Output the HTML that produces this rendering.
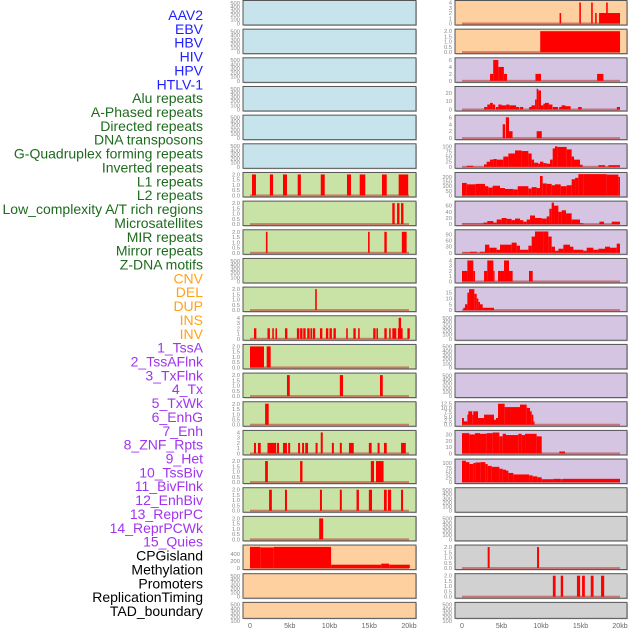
<!DOCTYPE html>
<html><head><meta charset="utf-8">
<style>
html,body{margin:0;padding:0;background:#fff;}
svg{display:block;font-family:"Liberation Sans",sans-serif;}
</style></head>
<body>
<svg id="chart" width="630" height="630" viewBox="0 0 630 630">
<g id="labels"></g>
<g id="panels"></g>
<g id="xaxes"></g>
</svg>
<script>
// ---------- label data ----------
const labelNames = ["AAV2","EBV","HBV","HIV","HPV","HTLV-1","Alu repeats","A-Phased repeats","Directed repeats","DNA transposons","G-Quadruplex forming repeats","Inverted repeats","L1 repeats","L2 repeats","Low_complexity A/T rich regions","Microsatellites","MIR repeats","Mirror repeats","Z-DNA motifs","CNV","DEL","DUP","INS","INV","1_TssA","2_TssAFlnk","3_TxFlnk","4_Tx","5_TxWk","6_EnhG","7_Enh","8_ZNF_Rpts","9_Het","10_TssBiv","11_BivFlnk","12_EnhBiv","13_ReprPC","14_ReprPCWk","15_Quies","CPGisland","Methylation","Promoters","ReplicationTiming","TAD_boundary"];
const labelGroups = [6,13,5,15,5];
const xTickValues = [0,5,10,15,20];
const xTickLabels = ["0","5kb","10kb","15kb","20kb"];

// ---------- left column data (start kb, end kb, value) ----------
const L6 = [[0.25,0.75,2],[2.5,2.9,2],[4.15,4.65,2],[6.0,6.4,2],[8.9,9.4,2],[12.2,12.7,2],[13.8,14.5,2],[16.6,17.2,2],[18.7,19.9,2]];
const L7 = [[17.9,18.2,2],[18.5,18.8,2],[19.0,19.3,2]];
const L8 = [[2.0,2.2,2],[14.85,15.05,2],[16.9,17.2,2],[19.1,19.7,2]];
const L10 = [[8.2,8.4,2]];
const L11 = [[0.5,0.8,2],[2.2,2.5,2],[2.8,3.0,2],[3.2,3.4,2],[4.4,4.7,2],[5.9,6.2,2],[6.3,6.6,2],[6.7,7.0,2],[7.2,7.5,2],[7.6,7.8,2],[7.9,8.2,2],[8.8,9.1,2],[9.55,9.85,2],[10.0,10.3,2],[10.5,10.8,2],[12.1,12.3,2],[13.0,13.3,2],[13.6,13.8,2],[15.5,15.8,2],[15.9,16.1,2],[16.9,17.2,2],[17.5,17.7,2],[17.9,18.4,2],[18.6,19.2,2],[18.7,19.0,4],[19.8,20.1,2]];
const L12 = [[0,1.76,2],[2.1,2.6,2]];
const L13 = [[4.65,5.0,2],[11.3,11.7,2],[16.35,16.7,2]];
const L14 = [[1.9,2.35,2]];
const L15 = [[0.5,0.75,2],[1.0,1.35,2],[2.2,2.45,2],[2.45,3.3,2],[3.4,3.65,2],[4.15,4.65,2],[4.8,5.05,2],[6.05,6.3,2],[6.55,6.8,2],[6.95,7.3,2],[8.25,8.5,2],[8.9,9.15,4],[10.3,10.55,2],[11.3,11.55,2],[12.45,13.05,2],[14.95,15.3,2],[16.05,16.3,2],[16.85,17.2,2],[19.0,19.6,2]];
const L16 = [[1.9,2.25,2],[6.3,6.6,2],[15.2,15.6,2],[15.85,16.8,2]];
const L17 = [[2.4,2.75,2],[4.4,4.65,2],[8.8,9.05,2],[11.3,11.55,2],[13.4,13.7,2],[14.95,15.35,2],[16.85,17.2,2],[17.35,17.75,2],[19.0,19.25,2]];
const L18 = [[8.7,9.2,2]];
const L19 = [[0,1.3,600],[1.3,3.0,585],[3.0,10.2,600],[10.2,16.5,95],[16.5,17.5,125],[17.5,20.1,95]];

// ---------- right column data ----------
const R0 = [[12.35,12.55,2],[14.85,15.05,4],[16.35,16.55,4],[16.85,17.05,2],[17.35,20.0,2],[18.25,18.45,4]];
const R1 = [[9.9,20.0,2]];
const R2 = [[3.55,3.95,2],[3.95,4.6,6],[4.6,5.3,4],[5.3,5.7,2],[9.3,10.0,2],[17.1,17.9,2]];
const R3 = [[2.8,3.2,3],[3.2,3.55,6],[3.55,3.9,8],[3.9,4.2,6],[4.3,4.6,3],[4.6,5.0,6],[5.0,5.6,5],[5.6,6.0,6],[6.0,6.85,5],[6.85,7.25,3],[7.35,7.75,3],[8.5,8.8,3],[8.8,9.25,5],[9.25,9.45,12],[9.45,9.65,25],[9.65,10.0,23],[10.0,10.3,5],[10.3,10.5,7],[10.5,11.0,8],[11.0,11.45,6],[11.5,12.15,3],[12.3,12.6,3],[12.6,13.1,5],[13.1,13.75,4],[14.7,15.15,3],[19.6,20.0,3]];
const R4 = [[5.15,5.45,4],[5.55,5.95,6],[5.95,6.4,2],[9.45,10.1,2]];
const R5 = [[0.6,1.43,5],[2.79,3.12,12],[3.12,3.54,25],[3.54,3.97,35],[3.97,4.39,38],[4.39,5.23,35],[5.23,5.87,50],[5.87,6.71,65],[6.71,7.55,80],[7.55,8.4,77],[8.4,8.82,65],[8.82,9.12,35],[9.12,9.66,20],[9.66,9.87,15],[9.87,10.3,25],[10.3,10.72,18],[10.72,11.14,15],[11.14,11.48,35],[11.48,11.77,90],[11.77,12.07,100],[12.07,13.25,97],[13.25,13.88,85],[13.88,14.18,50],[14.18,14.94,35],[14.94,15.28,10],[17.26,18.1,8],[18.53,20.0,8]];
const R6 = [[0,0.6,135],[0.6,1.73,120],[1.73,2.91,125],[2.91,3.33,100],[3.33,3.88,85],[3.88,4.81,105],[4.81,5.44,80],[5.44,6.5,70],[6.5,7.05,65],[7.05,8.4,100],[8.4,8.82,75],[8.82,9.45,90],[9.45,9.87,80],[9.87,10.21,210],[10.21,10.72,130],[10.72,11.35,125],[11.35,11.77,110],[11.77,12.49,120],[12.49,13.25,100],[13.25,13.88,110],[13.88,14.31,175],[14.31,14.73,190],[14.73,15.36,230],[15.36,18.31,230],[18.31,19.79,225],[19.79,20.0,200]];
const R7 = [[0,2.7,2],[2.7,3.2,5],[3.2,3.97,10],[3.97,4.39,5],[4.39,5.02,15],[5.02,5.65,20],[5.65,6.29,17],[6.29,6.71,13],[6.71,7.34,18],[7.34,7.76,13],[7.76,8.19,8],[8.19,8.61,15],[8.61,9.24,28],[9.24,10.09,20],[10.09,10.72,18],[10.72,11.06,25],[11.06,11.35,50],[11.35,11.65,70],[11.65,12.2,60],[12.2,12.62,40],[12.62,13.17,45],[13.17,13.88,35],[13.88,14.94,15],[14.94,15.36,3],[17.39,17.98,8],[18.95,20.0,8]];
const R8 = [[0,1.0,2],[1.0,1.86,5],[2.28,2.91,5],[2.91,3.46,40],[3.46,4.39,25],[4.39,4.81,15],[4.81,6.29,40],[6.29,6.92,50],[6.92,7.34,35],[7.34,8.4,15],[8.4,8.82,35],[8.82,9.24,80],[9.24,10.3,105],[10.3,10.93,105],[10.93,11.35,80],[11.35,11.77,30],[11.77,12.2,10],[12.2,12.83,20],[12.83,13.67,40],[13.67,14.1,30],[14.1,15.36,15],[15.36,15.78,10],[15.78,16.63,25],[16.63,17.26,15],[17.26,18.1,20],[18.1,18.74,30],[18.74,19.58,25],[19.58,20.0,45]];
const R9 = [[0,0.68,2],[0.68,1.43,4],[1.43,1.65,2],[2.79,3.2,2],[3.2,3.97,4],[3.97,4.05,2],[4.56,5.32,2],[5.32,5.95,4],[5.95,6.41,2],[8.48,8.95,2]];
const R10 = [[0.17,0.38,2],[0.38,0.68,5],[0.68,0.89,15],[0.89,1.56,18],[1.56,1.86,14],[1.86,2.07,10],[2.07,2.28,7],[2.28,2.62,5],[2.62,4.05,2]];
const R14 = [[0,0.25,4],[0.25,0.68,2],[0.68,0.8,6],[0.8,1.3,8],[1.3,1.43,6],[1.43,2.03,8],[2.03,2.79,4],[2.79,4.05,6],[4.05,4.3,3],[4.3,4.56,4],[4.56,5.4,12.5],[5.4,7.34,10.5],[7.34,8.19,12],[8.19,8.61,10],[8.61,8.82,8],[8.82,9.03,6],[9.03,9.16,2]];
const R15 = [[0,0.93,32],[0.93,1.65,30],[1.65,2.28,32],[2.28,3.12,31],[3.12,3.88,32],[3.88,4.73,33],[4.73,5.15,27],[5.15,5.57,31],[5.57,7.13,29],[7.13,7.55,31],[7.55,7.98,29],[7.98,9.45,31],[9.45,10.09,27],[12.32,13.04,3]];
const R16 = [[0,0.5,112],[0.5,0.93,105],[0.93,1.43,95],[1.43,1.69,100],[1.69,2.36,103],[2.36,2.95,105],[2.95,3.25,95],[3.25,3.76,85],[3.76,4.73,80],[4.73,5.15,70],[5.15,5.57,65],[5.57,5.87,60],[5.87,6.5,48],[6.5,8.52,40],[8.52,8.95,35],[8.95,9.54,30],[9.54,10.09,25],[10.09,11.56,15],[11.56,12.49,17],[12.49,12.74,15],[12.74,20.0,17]];
const R19 = [[3.25,3.5,2],[9.5,9.75,2]];
const R20 = [[11.5,11.85,2],[12.5,12.8,2],[14.55,14.95,2],[15.2,15.55,2],[16.3,16.65,2],[17.6,18.0,2]];

// ---------- tick sets ----------
const T2 = [0,0.5,1,1.5,2];
const T4 = [0,1,2,3,4];
const T500 = [0,100,200,300,400,500];
const T6 = [0,2,4,6];

const C = {blue:"#c7e4ec",green:"#c9e2a6",orange:"#fed09f",purple:"#d5c5e3",grey:"#d1d1d1"};
const E = null;
const leftTracks = [
 [C.blue,E,T500,520],[C.blue,E,T500,520],[C.blue,E,T500,520],[C.blue,E,T500,520],[C.blue,E,T500,520],[C.blue,E,T500,520],
 [C.green,L6,T2,2.05],[C.green,L7,T2,2.05],[C.green,L8,T2,2.05],[C.green,E,T500,520],[C.green,L10,T2,2.05],
 [C.green,L11,T4,4.1],[C.green,L12,T2,2.05],[C.green,L13,T2,2.05],[C.green,L14,T2,2.05],[C.green,L15,T4,4.1],
 [C.green,L16,T2,2.05],[C.green,L17,T2,2.05],[C.green,L18,T2,2.05],[C.orange,L19,[0,200,400],610],
 [C.orange,E,T500,520],[C.orange,E,T500,520]];
const rightTracks = [
 [C.orange,R0,T4,4.1],[C.orange,R1,T2,2.05],[C.purple,R2,T6,6.2],[C.purple,R3,[0,10,20],26],[C.purple,R4,T6,6.2],
 [C.purple,R5,[0,25,50,75,100],105],[C.purple,R6,[0,50,100,150,200],232],[C.purple,R7,[0,20,40,60],70],
 [C.purple,R8,[0,30,60,90],106],[C.purple,R9,T4,4.1],[C.purple,R10,[0,5,10,15],18.5],
 [C.purple,E,T500,520],[C.purple,E,T500,520],[C.purple,E,T500,520],
 [C.purple,R14,[0,2.5,5,7.5,10,12.5],12.8],[C.purple,R15,[0,10,20,30],34],[C.purple,R16,[0,25,50,75,100],113],
 [C.grey,E,T500,520],[C.grey,E,T500,520],[C.grey,R19,T2,2.05],[C.grey,R20,T2,2.05],[C.grey,E,T500,520]];

const NS="http://www.w3.org/2000/svg";
function mk(tag,attrs,parent){const e=document.createElementNS(NS,tag);for(const k in attrs)e.setAttribute(k,attrs[k]);parent.appendChild(e);return e;}

// labels
const labelColors=["#1f1fff","#1e6b1e","#ffa31a","#a034f0","#000000"];
const gL=document.getElementById('labels');
let gi=0,cnt=0;
labelNames.forEach((n,i)=>{
  while(cnt>=labelGroups[gi]){cnt=0;gi++;}
  cnt++;
  const t=mk('text',{x:203,y:15+i*13.86+5,'text-anchor':'end','font-size':14,fill:labelColors[gi]},gL);
  t.textContent=n;
  
  
});

// panels
const gP=document.getElementById('panels');
const cols=[{x0:243,w:173,z:250,s:7.95,tracks:leftTracks},{x0:455,w:172,z:462,s:7.9,tracks:rightTracks}];
function fmt(v,ticks){const dec=ticks.some(t=>t%1!==0);if(!dec)return String(v);return (ticks.some(t=>(t*10)%1!==0))?v.toFixed(1):v.toFixed(1);}
cols.forEach((col,ci)=>{
  const xs=kb=>col.z+kb*col.s;
  col.tracks.forEach((tr,ri)=>{
    const [fill,data,ticks,amax]=tr;
    const top=0.5+ri*28.66;
    const fullH=24.5;
    const h=(ri===21)?16:fullH;
    const g=mk('g',{},gP);
    
    
    const bottom=top+fullH;
    const ys=v=>bottom-1.5-v/amax*(fullH-3);
    mk('rect',{x:col.x0+1,y:top+1,width:col.w,height:h,fill:'#999','opacity':0.5},g);
    const bg=mk('rect',{x:col.x0,y:top,width:col.w,height:h,fill:fill,stroke:'#555','stroke-width':1},g);
    
    
    // ticks
    ticks.forEach(t=>{
      const yy=ys(t);
      if(ri===21 && yy>top+h+3) return;
      const tx=mk('text',{x:col.x0-3,y:yy+2,'text-anchor':'end','font-size':5.8,fill:'#888'},g);
      tx.textContent=fmt(t,ticks);
      
      
    });
    if(data){
      const clipId='c'+ci+'_'+ri;
      const cp=mk('clipPath',{id:clipId},g);
      mk('rect',{x:col.x0,y:top,width:col.w,height:h},cp);
      const gg=mk('g',{'clip-path':'url(#'+clipId+')'},g);
      const base=mk('rect',{x:xs(0),y:ys(0)-1,width:xs(20)-xs(0),height:2,fill:'#c0302a',opacity:0.55},gg);
      
      
      data.forEach(d=>{
        const y1=ys(d[2]);
        const b=mk('rect',{x:xs(d[0]),y:y1,width:Math.max(xs(d[1])-xs(d[0]),1.2),height:ys(0)-y1,fill:'#ff0000'},gg);
        
        
      });
    }
  });
  // x axis
  const gx=document.getElementById('xaxes');
  xTickValues.forEach((v,k)=>{
    const t=mk('text',{x:xs(v),y:628,'text-anchor':'middle','font-size':7,fill:'#666'},gx);
    t.textContent=xTickLabels[k];
    
    
  });
});
</script>
</body></html>
